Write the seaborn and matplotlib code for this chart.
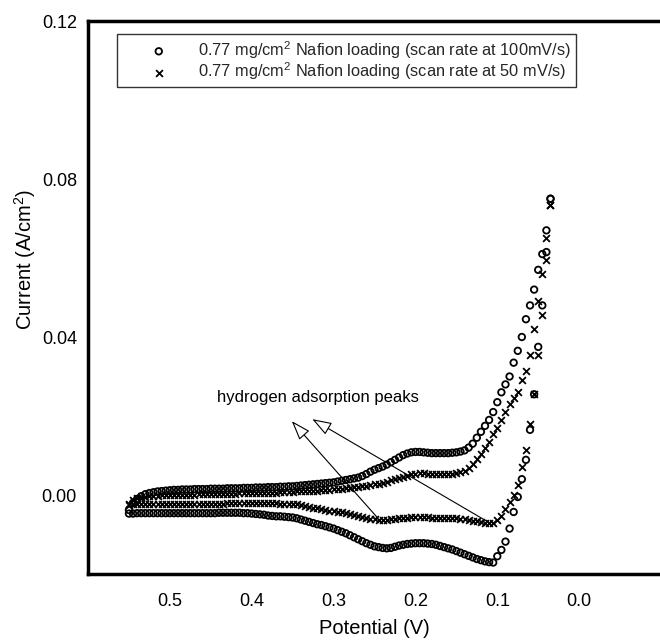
import matplotlib
matplotlib.use("Agg")
import matplotlib.pyplot as plt
import seaborn as sns
import pandas as pd

# ---------------- data ----------------
potential = [0.550, 0.545, 0.540, 0.535, 0.530, 0.525, 0.520, 0.515, 0.510, 0.505,
             0.500, 0.495, 0.490, 0.485, 0.480, 0.475, 0.470, 0.465, 0.460, 0.455,
             0.450, 0.445, 0.440, 0.435, 0.430, 0.425, 0.420, 0.415, 0.410, 0.405,
             0.400, 0.395, 0.390, 0.385, 0.380, 0.375, 0.370, 0.365, 0.360, 0.355,
             0.350, 0.345, 0.340, 0.335, 0.330, 0.325, 0.320, 0.315, 0.310, 0.305,
             0.300, 0.295, 0.290, 0.285, 0.280, 0.275, 0.270, 0.265, 0.260, 0.255,
             0.250, 0.245, 0.240, 0.235, 0.230, 0.225, 0.220, 0.215, 0.210, 0.205,
             0.200, 0.195, 0.190, 0.185, 0.180, 0.175, 0.170, 0.165, 0.160, 0.155,
             0.150, 0.145, 0.140, 0.135, 0.130, 0.125, 0.120, 0.115, 0.110, 0.105,
             0.100, 0.095, 0.090, 0.085, 0.080, 0.075, 0.070, 0.065, 0.060, 0.055,
             0.050, 0.045, 0.040, 0.035]

# 100 mV/s, upper branch
i100_upper = [-0.0038, -0.0020, -0.0010, -0.0003, 0.0002, 0.0005, 0.0007, 0.0009, 0.0010, 0.0011,
              0.0012, 0.0013, 0.0013, 0.0014, 0.0014, 0.0014, 0.0015, 0.0015, 0.0015, 0.0015,
              0.0016, 0.0016, 0.0016, 0.0016, 0.0017, 0.0017, 0.0017, 0.0017, 0.0018, 0.0018,
              0.0018, 0.0019, 0.0019, 0.0019, 0.0020, 0.0020, 0.0020, 0.0021, 0.0021, 0.0022,
              0.0022, 0.0023, 0.0024, 0.0025, 0.0026, 0.0027, 0.0028, 0.0029, 0.0030, 0.0031,
              0.0032, 0.0034, 0.0036, 0.0038, 0.0040, 0.0042, 0.0044, 0.0048, 0.0053, 0.0059,
              0.0064, 0.0068, 0.0072, 0.0077, 0.0083, 0.0089, 0.0095, 0.0101, 0.0105, 0.0108,
              0.0109, 0.0109, 0.0108, 0.0107, 0.0106, 0.0106, 0.0106, 0.0106, 0.0106, 0.0107,
              0.0108, 0.0110, 0.0113, 0.0120, 0.0130, 0.0145, 0.0160, 0.0175, 0.0190, 0.0210,
              0.0235, 0.0260, 0.0280, 0.0300, 0.0335, 0.0365, 0.0400, 0.0445, 0.0480, 0.0520,
              0.0570, 0.0610, 0.0670, 0.0750]

# 100 mV/s, lower branch
i100_lower = [-0.0047, -0.0047, -0.0046, -0.0046, -0.0046, -0.0046, -0.0046, -0.0046, -0.0046, -0.0046,
              -0.0046, -0.0046, -0.0046, -0.0046, -0.0046, -0.0046, -0.0046, -0.0046, -0.0046, -0.0046,
              -0.0046, -0.0046, -0.0045, -0.0045, -0.0045, -0.0045, -0.0045, -0.0045, -0.0046, -0.0046,
              -0.0047, -0.0048, -0.0049, -0.0050, -0.0052, -0.0053, -0.0054, -0.0054, -0.0055, -0.0056,
              -0.0057, -0.0059, -0.0062, -0.0065, -0.0068, -0.0071, -0.0074, -0.0076, -0.0079, -0.0082,
              -0.0085, -0.0089, -0.0093, -0.0097, -0.0102, -0.0107, -0.0112, -0.0117, -0.0122, -0.0126,
              -0.0130, -0.0132, -0.0134, -0.0135, -0.0134, -0.0131, -0.0128, -0.0126, -0.0124, -0.0123,
              -0.0122, -0.0122, -0.0122, -0.0123, -0.0124, -0.0126, -0.0129, -0.0132, -0.0135, -0.0138,
              -0.0142, -0.0146, -0.0150, -0.0154, -0.0158, -0.0162, -0.0165, -0.0168, -0.0170, -0.0171,
              -0.0155, -0.0139, -0.0118, -0.0085, -0.0043, -0.0005, 0.0040, 0.0089, 0.0165, 0.0255,
              0.0375, 0.0480, 0.0615, 0.0750]

# 50 mV/s, upper branch
i50_upper = [-0.0022, -0.0012, -0.0007, -0.0005, -0.0004, -0.0003, -0.0002, -0.0002, -0.0001, -0.0001,
             0.0000, 0.0000, 0.0000, 0.0001, 0.0001, 0.0001, 0.0001, 0.0002, 0.0002, 0.0002,
             0.0002, 0.0002, 0.0003, 0.0003, 0.0003, 0.0003, 0.0003, 0.0004, 0.0004, 0.0004,
             0.0004, 0.0005, 0.0005, 0.0005, 0.0006, 0.0006, 0.0006, 0.0007, 0.0007, 0.0008,
             0.0008, 0.0009, 0.0009, 0.0010, 0.0010, 0.0011, 0.0011, 0.0012, 0.0012, 0.0013,
             0.0014, 0.0015, 0.0016, 0.0017, 0.0018, 0.0019, 0.0020, 0.0022, 0.0023, 0.0025,
             0.0027, 0.0029, 0.0031, 0.0034, 0.0037, 0.0040, 0.0043, 0.0046, 0.0049, 0.0052,
             0.0054, 0.0055, 0.0055, 0.0054, 0.0053, 0.0052, 0.0052, 0.0052, 0.0053, 0.0054,
             0.0056, 0.0058, 0.0062, 0.0069, 0.0078, 0.0090, 0.0103, 0.0118, 0.0135, 0.0155,
             0.0170, 0.0190, 0.0210, 0.0230, 0.0245, 0.0262, 0.0290, 0.0315, 0.0355, 0.0420,
             0.0490, 0.0560, 0.0650, 0.0735]

# 50 mV/s, lower branch
i50_lower = [-0.0025, -0.0024, -0.0024, -0.0024, -0.0024, -0.0024, -0.0024, -0.0024, -0.0023, -0.0023,
             -0.0023, -0.0023, -0.0023, -0.0023, -0.0023, -0.0023, -0.0022, -0.0022, -0.0022, -0.0022,
             -0.0022, -0.0022, -0.0022, -0.0022, -0.0021, -0.0021, -0.0021, -0.0021, -0.0021, -0.0021,
             -0.0021, -0.0021, -0.0021, -0.0021, -0.0021, -0.0021, -0.0021, -0.0022, -0.0022, -0.0022,
             -0.0023, -0.0024, -0.0026, -0.0028, -0.0030, -0.0032, -0.0034, -0.0036, -0.0038, -0.0040,
             -0.0041, -0.0043, -0.0044, -0.0046, -0.0048, -0.0050, -0.0053, -0.0055, -0.0058, -0.0060,
             -0.0062, -0.0063, -0.0063, -0.0063, -0.0062, -0.0061, -0.0059, -0.0058, -0.0057, -0.0056,
             -0.0056, -0.0056, -0.0056, -0.0056, -0.0057, -0.0057, -0.0058, -0.0058, -0.0058, -0.0058,
             -0.0059, -0.0060, -0.0062, -0.0063, -0.0065, -0.0066, -0.0068, -0.0070, -0.0071, -0.0071,
             -0.0064, -0.0052, -0.0036, -0.0018, 0.0000, 0.0025, 0.0070, 0.0115, 0.0180, 0.0255,
             0.0355, 0.0455, 0.0595, 0.0735]

series_labels = ["0.77 mg/cm$^2$ Nafion loading (scan rate at 100mV/s)",
                 "0.77 mg/cm$^2$ Nafion loading (scan rate at 50 mV/s)"]
x_ticks = [0.5, 0.4, 0.3, 0.2, 0.1, 0.0]
y_ticks = [0.00, 0.04, 0.08, 0.12]
annotation_text = "hydrogen adsorption peaks"
arrow_tips = [(0.351, 0.0187), (0.326, 0.0192)]
arrow_tails = [(0.247, -0.0056), (0.109, -0.0071)]

# ---------------- figure ----------------
sns.set_style("white")
plt.rcParams["font.family"] = ["Liberation Sans", "DejaVu Sans"]
plt.rcParams["mathtext.fontset"] = "custom"
plt.rcParams["mathtext.rm"] = "Liberation Sans"

fig = plt.figure(figsize=(6.6, 6.44), dpi=100)
ax = fig.add_axes([88 / 660, 70 / 644, 573 / 660, 553 / 644])

df100 = pd.DataFrame({"potential": potential + potential,
                      "current": i100_lower + i100_upper})
df50 = pd.DataFrame({"potential": potential + potential,
                     "current": i50_lower + i50_upper})

sns.scatterplot(data=df100, x="potential", y="current", ax=ax, marker="o", s=22,
                facecolors="none", edgecolor="black", linewidth=1.3,
                label=series_labels[0], zorder=3)
sns.scatterplot(data=df50, x="potential", y="current", ax=ax, marker="x", s=24,
                color="black", linewidth=1.3, label=series_labels[1], zorder=3)

ax.set_xlim(0.6, -0.1)
ax.set_ylim(-0.02, 0.12)
ax.set_xticks(x_ticks)
ax.set_xticklabels([f"{v:.1f}" for v in x_ticks])
ax.set_yticks(y_ticks)
ax.set_yticklabels([f"{v:.2f}" for v in y_ticks])

ax.tick_params(axis="both", direction="in", color="black", labelsize=13,
               width=1.0, labelcolor="black")
ax.tick_params(axis="x", length=8, pad=14)
ax.tick_params(axis="y", length=7, pad=8)

for side in ["left", "bottom", "top"]:
    ax.spines[side].set_linewidth(2.5)
    ax.spines[side].set_color("black")
ax.spines["right"].set_visible(False)

ax.set_xlabel("Potential (V)", fontsize=14.5, color="black")
ax.set_ylabel("Current (A/cm$^2$)", fontsize=14.5, color="black")
ax.xaxis.set_label_coords(0.5, -0.081)
ax.yaxis.set_label_coords(-0.087, 0.568)

leg = ax.legend(loc="upper left", bbox_to_anchor=(0.0506, 0.9765), borderaxespad=0,
                fontsize=11.8, frameon=True, fancybox=False, edgecolor="black",
                borderpad=0.3, handlelength=4.5, handletextpad=0.15, labelspacing=0.0,
                markerscale=1.0)
leg.get_frame().set_linewidth(1.0)

ax.text(0.442, 0.0248, annotation_text, fontsize=12, ha="left", va="center", color="black")
for tip, tail in zip(arrow_tips, arrow_tails):
    ax.annotate("", xy=tip, xytext=tail,
                arrowprops=dict(arrowstyle="-|>,head_length=1.2,head_width=0.42",
                                mutation_scale=10, fc="white", ec="black", lw=0.8,
                                shrinkA=0, shrinkB=0), zorder=4)

fig.savefig("out.png", dpi=100)
